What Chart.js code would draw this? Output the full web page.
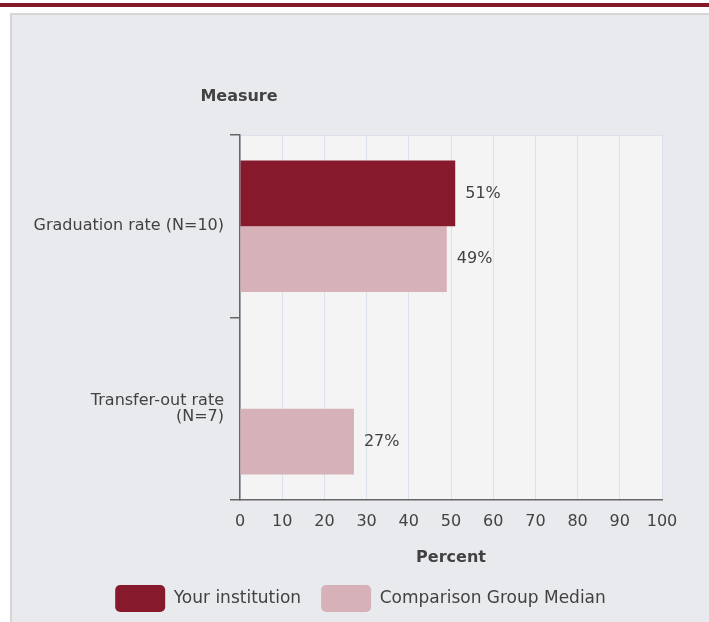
<!DOCTYPE html>
<html>
<head>
<meta charset="utf-8">
<script src="https://cdn.jsdelivr.net/npm/chart.js@4.4.1/dist/chart.umd.min.js"></script>
<style>
    body { margin: 0; background: #fff; width: 709px; height: 622px; overflow: hidden; position: relative; }
    #top-bar { position: absolute; left: 0; top: 3px; width: 709px; height: 4px; background: #861a2c; }
    #panel {
        position: absolute; left: 10px; top: 13px; width: 697px; height: 607px;
        background: #e9eaee; border-left: 2px solid #d6d6d8; border-top: 2px solid #d6d6d8;
    }
    #chart-wrap { position: relative; width: 697px; height: 607px; }
</style>
</head>
<body>
<div id="top-bar"></div>
<div id="panel">
    <div id="chart-wrap"><canvas id="measureChart"></canvas></div>
</div>
<script>
const categories = [["Graduation rate (N=10)"], ["Transfer-out rate", "(N=7)"]];
const seriesNames = ["Your institution", "Comparison Group Median"];
const institutionValues = [51, null];
const comparisonValues = [49, 27];
const xMin = 0;
const xMax = 100;
const xStep = 10;

const darkRed = "#861a2c";
const lightPink = "#d7b1b8";
const textColor = "#424242";
const gridColor = "#dae1ec";
const axisColor = "#666666";
const fontFamily = "'DejaVu Sans', sans-serif";

const plotBackground = {
    id: "plotBackground",
    beforeDraw(chart) {
        const { ctx, chartArea } = chart;
        ctx.save();
        ctx.fillStyle = "#f4f4f4";
        ctx.fillRect(chartArea.left, chartArea.top, chartArea.width, chartArea.height);
        ctx.strokeStyle = gridColor;
        ctx.lineWidth = 1;
        ctx.beginPath();
        ctx.moveTo(chartArea.left, chartArea.top + 0.5);
        ctx.lineTo(chartArea.right + 0.5, chartArea.top + 0.5);
        ctx.lineTo(chartArea.right + 0.5, chartArea.bottom);
        ctx.stroke();
        ctx.restore();
    }
};

const valueLabels = {
    id: "valueLabels",
    afterDatasetsDraw(chart) {
        const { ctx } = chart;
        ctx.save();
        ctx.font = `16px ${fontFamily}`;
        ctx.fillStyle = textColor;
        ctx.textAlign = "left";
        ctx.textBaseline = "middle";
        chart.data.datasets.forEach((dataset, i) => {
            chart.getDatasetMeta(i).data.forEach((bar, j) => {
                const value = dataset.data[j];
                if (value === null) return;
                ctx.fillText(`${value}%`, bar.x + 10, bar.y);
            });
        });
        ctx.restore();
    }
};

const measureTitle = {
    id: "measureTitle",
    afterDraw(chart) {
        const { ctx, chartArea } = chart;
        ctx.save();
        ctx.font = `bold 16px ${fontFamily}`;
        ctx.fillStyle = textColor;
        ctx.textAlign = "center";
        ctx.textBaseline = "middle";
        ctx.fillText("Measure", chartArea.left - 1, 82);
        ctx.restore();
    }
};

new Chart(document.getElementById("measureChart"), {
    type: "bar",
    data: {
        labels: categories,
        datasets: [
            {
                label: seriesNames[0],
                data: institutionValues,
                backgroundColor: darkRed
            },
            {
                label: seriesNames[1],
                data: comparisonValues,
                backgroundColor: lightPink
            }
        ]
    },
    options: {
        indexAxis: "y",
        responsive: true,
        maintainAspectRatio: false,
        animation: false,
        datasets: {
            bar: {
                categoryPercentage: 0.72,
                barPercentage: 1
            }
        },
        layout: {
            padding: { top: 120, right: 0, left: 0, bottom: 0 }
        },
        plugins: {
            legend: {
                position: "bottom",
                labels: {
                    boxWidth: 50,
                    boxHeight: 27,
                    padding: 20,
                    color: textColor,
                    useBorderRadius: true,
                    borderRadius: 5,
                    font: { family: fontFamily, size: 17 }
                }
            },
            tooltip: { enabled: false }
        },
        scales: {
            x: {
                min: xMin,
                max: xMax,
                ticks: {
                    stepSize: xStep,
                    color: textColor,
                    padding: 12,
                    font: { family: fontFamily, size: 16 }
                },
                grid: {
                    color: gridColor,
                    drawTicks: false
                },
                border: { color: axisColor, width: 1.5 },
                title: {
                    display: true,
                    text: "Percent",
                    color: textColor,
                    padding: { top: 0, bottom: -2 },
                    font: { family: fontFamily, size: 16, weight: "bold" }
                },
                afterFit(scale) {
                    scale.height = scale.chart.height - scale.chart.legend.height - 485;
                }
            },
            y: {
                ticks: {
                    color: textColor,
                    padding: 6,
                    font: { family: fontFamily, size: 16, lineHeight: 0.95 }
                },
                grid: {
                    drawOnChartArea: false,
                    color: axisColor,
                    lineWidth: 1.5,
                    tickLength: 10
                },
                border: { color: axisColor, width: 1.5 },
                afterFit(scale) {
                    scale.width = 228;
                }
            },
            yRight: {
                axis: "y",
                position: "right",
                display: true,
                ticks: { display: false },
                grid: { display: false },
                border: { display: false },
                afterFit(scale) {
                    scale.width = 47;
                }
            }
        }
    },
    plugins: [plotBackground, valueLabels, measureTitle]
});
</script>
</body>
</html>
